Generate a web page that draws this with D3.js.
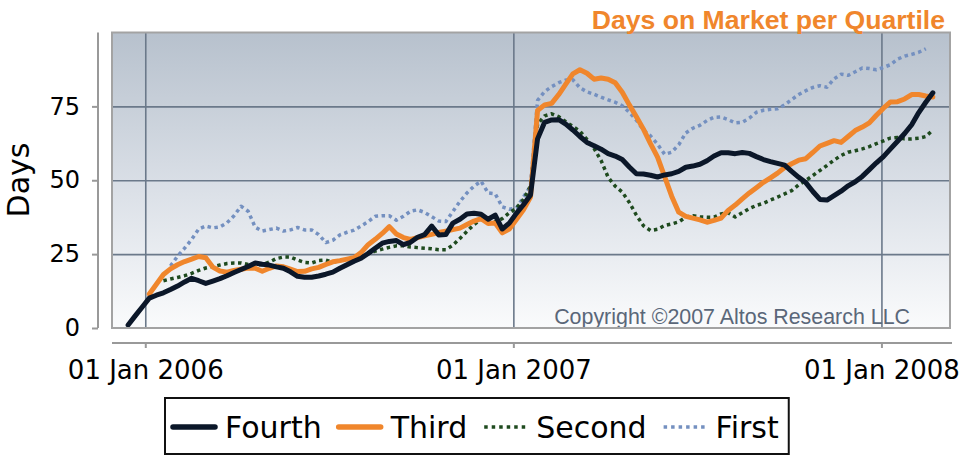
<!DOCTYPE html>
<html><head><meta charset="utf-8">
<script src="https://cdn.jsdelivr.net/npm/d3@7"></script>
<style>body{margin:0;background:#fff}svg{display:block}</style>
</head><body><svg id="c" width="961" height="455"></svg>
<script>
const dates = [
"2005-12-15","2005-12-22","2005-12-29",
"2006-01-05","2006-01-12","2006-01-19","2006-01-26","2006-02-02","2006-02-09","2006-02-16","2006-02-23",
"2006-03-02","2006-03-09","2006-03-16","2006-03-23","2006-03-30","2006-04-06","2006-04-13","2006-04-20","2006-04-27",
"2006-05-04","2006-05-11","2006-05-18","2006-05-25","2006-06-01","2006-06-08","2006-06-15","2006-06-22","2006-06-29",
"2006-07-06","2006-07-13","2006-07-20","2006-07-27","2006-08-03","2006-08-10","2006-08-17","2006-08-24","2006-08-31",
"2006-09-07","2006-09-14","2006-09-21","2006-09-28","2006-10-05","2006-10-12","2006-10-19","2006-10-26",
"2006-11-02","2006-11-09","2006-11-16","2006-11-23","2006-11-30","2006-12-07","2006-12-14","2006-12-21","2006-12-28",
"2007-01-04","2007-01-11","2007-01-18","2007-01-25","2007-02-01","2007-02-08","2007-02-15","2007-02-22",
"2007-03-01","2007-03-08","2007-03-15","2007-03-22","2007-03-29","2007-04-05","2007-04-12","2007-04-19","2007-04-26",
"2007-05-03","2007-05-10","2007-05-17","2007-05-24","2007-05-31","2007-06-07","2007-06-14","2007-06-21","2007-06-28",
"2007-07-05","2007-07-12","2007-07-19","2007-07-26","2007-08-02","2007-08-09","2007-08-16","2007-08-23","2007-08-30",
"2007-09-06","2007-09-13","2007-09-20","2007-09-27","2007-10-04","2007-10-11","2007-10-18","2007-10-25",
"2007-11-01","2007-11-08","2007-11-15","2007-11-22","2007-11-29","2007-12-06","2007-12-13","2007-12-20","2007-12-27",
"2008-01-03","2008-01-10","2008-01-17","2008-01-24","2008-01-31","2008-02-07","2008-02-14","2008-02-21"];

const fourth = [1,4.1,7.1,10.1,11.1,11.9,13,14.2,15.6,16.8,
16,15.1,15.9,16.7,17.7,18.8,19.8,20.8,22,21.6,
21.3,20.7,20.2,19,17.5,17.2,17.2,17.6,18.2,18.9,
20.2,21.4,22.6,23.6,25.2,27,28.7,29.3,29.6,28.2,
29,30.7,31.6,34.5,31.5,31.6,35.5,36.8,38.6,38.8,
38.5,36.8,38.2,33.5,35.5,38.8,41.7,45,64,69.6,
70.4,70.5,69,67,64.8,62.8,61.7,60.5,59,58.2,
57,54.5,52.2,52.1,51.7,51.1,51.8,52.2,53,54.4,
54.8,55.4,56.6,58.2,59.3,59.3,59,59.4,59.1,58,
57,56.3,55.7,55.1,53,51,49.2,46.2,43.5,43.3,
44.8,46.3,48.1,49.5,51.3,53.6,55.9,58,60.6,63.2,
65.8,68.8,72.9,76.4,79.6];

const third = [null,null,null,11.5,14.8,18.1,20,21.4,22.5,23.3,
24.2,23.8,20.6,19.3,18.9,19.5,19.9,20.3,20.2,19.2,
20.2,21,20.7,19.9,19.1,19.2,20,20.5,21.5,22.4,
22.8,23.3,23.8,25.5,28.2,30,32,34.3,31.8,30.6,
30,30.6,31.2,31.7,32.3,32.8,33.3,33.8,35,36.2,
37,35.4,35.5,32.2,33.5,36.7,40,44.3,73.6,75.5,
76,79,82.5,86,87.4,86.2,84.2,84.6,84.2,83,
79.8,75.5,71.5,67.3,62.4,57.8,51.2,44.6,39.2,37.8,
37.2,36.6,35.8,36.4,37.2,39.8,41.6,43.7,45.7,47.5,
49.3,50.8,52.4,54.3,55.6,56.8,57.3,59.4,61.6,62.5,
63.4,62.8,64.8,66.8,68,69.4,72,74.4,76.5,76.6,
77.5,79,79,78.5,78.2];

const second = [null,null,null,null,null,16,16.6,17.1,17.7,18.5,
19.5,20.3,20.8,21.3,21.8,22,22,21.5,21.3,21.5,
22.3,23.5,24,24,23,22.2,22,22.8,23,22.3,
22.8,23.2,23.6,24.3,25.3,26,26.7,27.3,27.8,27.8,
27.4,27.2,27,26.8,26.5,26.5,28,30.3,32.7,35,
36.8,36.4,36,37,39,40.5,43.5,48,69,71.8,
72.5,71.5,69.8,68.2,66.6,63.8,60.8,56.7,51,48,
46,42.5,38.2,34.6,33,33.4,34.7,35.2,35.9,37.5,
38,37.6,37.5,37.5,38.6,39,37.6,39,40.4,41.5,
42.2,43.3,44.3,45.4,46.5,48.5,49.9,51.6,53.3,55,
56.8,58.4,59.5,60,60.6,61.4,62.4,63.3,64.3,64.5,
64,64,64.2,64.8,67];

const first = [null,null,null,null,null,null,21,24.3,27,30,
33.5,34.5,33.9,34.2,35.6,38,41.2,39.5,34.1,32.8,
33.3,33.8,32.8,33.2,34,33.2,33.2,31.6,28.9,29.7,
31.5,32.4,33.1,34.5,36,37.8,38,38,36.5,37.8,
39.5,40,39.1,37.7,36.2,36,39.4,42.8,45.7,48,
49.7,45.7,45.4,41,40.2,40.6,44.3,48,77,80,
81.7,83,83.9,84,81.3,79.9,79.1,78.1,77.2,76.4,
75.2,73,70.3,67,65,62.2,58.8,59.5,62,66,
67.6,68.6,70.2,71.3,71.4,70.5,69.4,69.6,71,73,
73.7,74,74.2,75.5,77.3,79,80.3,81.4,82,81.5,
84.3,85.9,85.5,86.7,88,87.8,87.4,88.2,89.1,91,
92,92.6,93.3,94.5,null];

const seriesNames = ["Fourth","Third","Second","First"];
const yTicks = [0,25,50,75];
const xTicks = ["2006-01-01","2007-01-01","2008-01-01"];
const titleText = "Days on Market per Quartile";
const yLabel = "Days";
const copyrightText = "Copyright \u00A92007 Altos Research LLC";

const seriesValues = {Fourth: fourth, Third: third, Second: second, First: first};
const styles = {
  Fourth: {color:"#0b1729", width:5, dash:null},
  Third:  {color:"#f0862c", width:5, dash:null},
  Second: {color:"#1e4a1e", width:3.5, dash:"3.5,3.5"},
  First:  {color:"#7490c0", width:3.5, dash:"3.5,3.5"}
};

const svg = d3.select("#c");
const L = 112, R = 950, T = 32.5, B = 328;
const parse = d3.utcParse("%Y-%m-%d");
const dateObjs = dates.map(parse);
const x = d3.scaleUtc().domain([parse("2005-11-29"), parse("2008-03-09")]).range([L, R]);
const y = d3.scaleLinear().domain([0, 100]).range([B, T]);

// gradient
const defs = svg.append("defs");
const grad = defs.append("linearGradient").attr("id","bg").attr("x1",0).attr("y1",0).attr("x2",0).attr("y2",1);
grad.append("stop").attr("offset","0%").attr("stop-color","#b7c1cd");
grad.append("stop").attr("offset","55%").attr("stop-color","#dce1e8");
grad.append("stop").attr("offset","100%").attr("stop-color","#fafbfc");
defs.append("clipPath").attr("id","clip").append("rect").attr("x",L).attr("y",T).attr("width",R-L).attr("height",B-T);

svg.append("rect").attr("x",L).attr("y",T).attr("width",R-L).attr("height",B-T).attr("fill","url(#bg)");

// gridlines
svg.append("g").attr("transform",`translate(${L},0)`)
  .call(d3.axisLeft(y).tickValues(yTicks.filter(v=>v>0)).tickSize(-(R-L)).tickFormat(""))
  .call(g=>g.select(".domain").remove())
  .selectAll("line").attr("stroke","#6b798a").attr("stroke-width",1.6);
svg.append("g").attr("transform",`translate(0,${B})`)
  .call(d3.axisBottom(x).tickValues(xTicks.map(parse)).tickSize(-(B-T)).tickFormat(""))
  .call(g=>g.select(".domain").remove())
  .selectAll("line").attr("stroke","#6b798a").attr("stroke-width",1.6);

// copyright
svg.append("text").attr("x",910).attr("y",324).attr("text-anchor","end")
  .attr("font-family","Liberation Sans, Arial, sans-serif").attr("font-size",21.4)
  .attr("fill","#5a6779").text(copyrightText);

// lines
const line = d3.line().defined(d=>d[1]!=null).x(d=>x(d[0])).y(d=>y(d[1]));
const lg = svg.append("g").attr("clip-path","url(#clip)");
["First","Second","Third","Fourth"].forEach(name=>{
  const st = styles[name];
  const data = dateObjs.map((dt,i)=>[dt, seriesValues[name][i]]);
  lg.append("path").attr("d", line(data)).attr("fill","none")
    .attr("stroke",st.color).attr("stroke-width",st.width)
    .attr("stroke-linejoin","round").attr("stroke-linecap", st.dash ? "butt" : "round")
    .attr("stroke-dasharray", st.dash);
});

// plot border
svg.append("rect").attr("x",L).attr("y",T).attr("width",R-L).attr("height",B-T)
  .attr("fill","none").attr("stroke","#a3a3a3").attr("stroke-width",2);

// y axis
const yAx = svg.append("g").attr("transform","translate(98,0)")
  .call(d3.axisLeft(y).tickValues(yTicks).tickSize(6).tickPadding(12).tickSizeOuter(0));
yAx.select(".domain").attr("stroke","#999").attr("stroke-width",2).attr("d",`M0,${T}V${B}`);
yAx.selectAll(".tick line").attr("stroke","#999").attr("stroke-width",2);
yAx.selectAll("text").attr("font-family","DejaVu Sans, sans-serif").attr("font-size",24).attr("fill","#000");

// x axis
const xAx = svg.append("g").attr("transform","translate(0,343)")
  .call(d3.axisBottom(x).tickValues(xTicks.map(parse)).tickSize(5).tickSizeOuter(0)
    .tickFormat(d3.utcFormat("%d %b %Y")));
xAx.select(".domain").attr("stroke","#999").attr("stroke-width",2).attr("d",`M${L},0H${R+2}`);
xAx.selectAll(".tick line").attr("stroke","#999").attr("stroke-width",2);
xAx.selectAll("text").attr("font-family","DejaVu Sans, sans-serif").attr("font-size",26)
  .attr("fill","#000").attr("y",36).attr("dy",0);

// y label
svg.append("text").attr("transform","translate(29,180) rotate(-90)").attr("text-anchor","middle")
  .attr("font-family","DejaVu Sans, sans-serif").attr("font-size",30).attr("fill","#000").text(yLabel);

// title
svg.append("text").attr("x",945).attr("y",29).attr("text-anchor","end")
  .attr("font-family","Liberation Sans, Arial, sans-serif").attr("font-weight","bold")
  .attr("font-size",26.6).attr("fill","#f0862c").text(titleText);

// legend
const leg = svg.append("g");
const box = leg.append("rect").attr("x",165).attr("y",398).attr("width",622).attr("height",56)
  .attr("fill","#fff").attr("stroke","#111").attr("stroke-width",2);
let cx = 173;
seriesNames.forEach(name=>{
  const st = styles[name];
  const sw = 42;
  leg.append("line").attr("x1",cx).attr("x2",cx+sw).attr("y1",427).attr("y2",427)
    .attr("stroke",st.color).attr("stroke-width", st.dash ? 3.5 : 5.5)
    .attr("stroke-linecap", st.dash ? "butt" : "round")
    .attr("stroke-dasharray", st.dash ? "3.5,4" : null);
  const t = leg.append("text").attr("x",cx+sw+10).attr("y",438)
    .attr("font-family","DejaVu Sans, sans-serif").attr("font-size",30).attr("fill","#000").text(name);
  cx = cx + sw + 10 + t.node().getComputedTextLength() + 17;
});
box.attr("width", cx - 17 + 10 - 165);
</script></body></html>
